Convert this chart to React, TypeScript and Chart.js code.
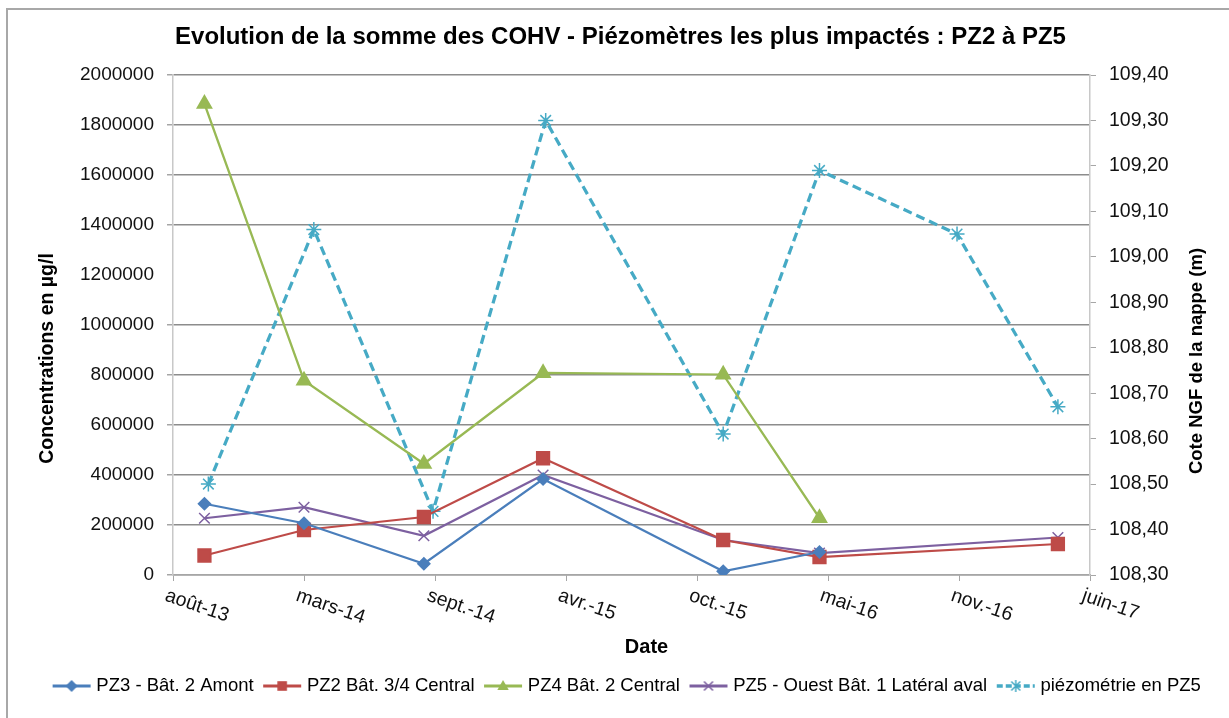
import React, { useEffect, useRef } from "react";
import { Chart, registerables } from "chart.js";

Chart.register(...registerables);

// ---------- data ----------
const tickLabels = ["août-13", "mars-14", "sept.-14", "avr.-15", "oct.-15", "mai-16", "nov.-16", "juin-17"];
const axisStartDate = "2013-08-15";
const tickStepDays = 200;

const concDates = ["2013-10-02", "2014-03-03", "2014-09-02", "2015-03-03", "2015-12-03", "2016-04-28", "2017-04-27"];
const pz3Values = [285000, 207000, 45000, 384000, 15000, 92000, null];
const pz2Values = [78000, 180000, 232000, 467000, 140000, 72000, 124000];
const pz4Values = [1885000, 778000, 445000, 808000, 802000, 228000, null];
const pz5Values = [227000, 271000, 157000, 400000, 140000, 88000, 150000];

const piezoDates = ["2013-10-08", "2014-03-18", "2014-09-16", "2015-03-07", "2015-12-03", "2016-04-28", "2016-11-24", "2017-04-27"];
const piezoValues = [108.5, 109.06, 108.44, 109.3, 108.61, 109.19, 109.05, 108.67];

const seriesNames = [
  "PZ3 - Bât. 2 Amont",
  "PZ2 Bât. 3/4 Central",
  "PZ4 Bât. 2 Central",
  "PZ5 - Ouest Bât. 1 Latéral aval",
  "piézométrie en PZ5",
];

const titleText = "Evolution de la somme des COHV - Piézomètres les plus impactés : PZ2 à PZ5";
const leftAxisTitle = "Concentrations en µg/l";
const rightAxisTitle = "Cote NGF de la nappe (m)";
const xAxisTitle = "Date";

// ---------- helpers ----------
const FONT = "'Liberation Sans', Arial, sans-serif";
const dayMs = 86400000;
const toDays = (d: string) => (Date.parse(d) - Date.parse(axisStartDate)) / dayMs;

const toPoints = (dates: string[], values: (number | null)[]) =>
  dates
    .map((d, i) => ({ x: toDays(d), y: values[i] }))
    .filter((p) => p.y !== null && p.y !== undefined);

const COLORS = {
  pz3: "#4A7EBB",
  pz2: "#BE4B48",
  pz4: "#98B954",
  pz5: "#7D60A0",
  piezo: "#46AAC5",
};

function drawMarker(ctx: CanvasRenderingContext2D, style: string, x: number, y: number, r: number, color: string) {
  ctx.save();
  ctx.fillStyle = color;
  ctx.strokeStyle = color;
  ctx.lineWidth = 1.5;
  ctx.beginPath();
  if (style === "rectRot") {
    ctx.moveTo(x, y - r);
    ctx.lineTo(x + r, y);
    ctx.lineTo(x, y + r);
    ctx.lineTo(x - r, y);
    ctx.closePath();
    ctx.fill();
  } else if (style === "rect") {
    ctx.rect(x - r * 0.8, y - r * 0.8, r * 1.6, r * 1.6);
    ctx.fill();
  } else if (style === "triangle") {
    ctx.moveTo(x, y - r);
    ctx.lineTo(x + r * 0.95, y + r * 0.65);
    ctx.lineTo(x - r * 0.95, y + r * 0.65);
    ctx.closePath();
    ctx.fill();
  } else if (style === "crossRot") {
    ctx.moveTo(x - r * 0.75, y - r * 0.75);
    ctx.lineTo(x + r * 0.75, y + r * 0.75);
    ctx.moveTo(x + r * 0.75, y - r * 0.75);
    ctx.lineTo(x - r * 0.75, y + r * 0.75);
    ctx.stroke();
  } else if (style === "star") {
    ctx.moveTo(x - r * 0.75, y - r * 0.75);
    ctx.lineTo(x + r * 0.75, y + r * 0.75);
    ctx.moveTo(x + r * 0.75, y - r * 0.75);
    ctx.lineTo(x - r * 0.75, y + r * 0.75);
    ctx.moveTo(x, y - r);
    ctx.lineTo(x, y + r);
    ctx.stroke();
  }
  ctx.restore();
}

function legendSymbol(color: string, style: string, dashed: boolean): HTMLCanvasElement {
  const c = document.createElement("canvas");
  c.width = 40;
  c.height = 18;
  const ctx = c.getContext("2d")!;
  ctx.strokeStyle = color;
  ctx.lineWidth = dashed ? 3.5 : 3;
  if (dashed) ctx.setLineDash([6, 3]);
  ctx.beginPath();
  ctx.moveTo(1, 9);
  ctx.lineTo(39, 9);
  ctx.stroke();
  ctx.setLineDash([]);
  drawMarker(ctx, style, 20, 9, 6, color);
  return c;
}

// ---------- component ----------
export default function App() {
  const canvasRef = useRef<HTMLCanvasElement | null>(null);

  useEffect(() => {
    if (!canvasRef.current) return;

    const legendStyles = [
      legendSymbol(COLORS.pz3, "rectRot", false),
      legendSymbol(COLORS.pz2, "rect", false),
      legendSymbol(COLORS.pz4, "triangle", false),
      legendSymbol(COLORS.pz5, "crossRot", false),
      legendSymbol(COLORS.piezo, "star", true),
    ];

    const shiftPlugin = {
      id: "shiftPlugin",
      afterLayout(chart: any) {
        if (chart.legend) {
          chart.legend.left += 14;
          chart.legend.right += 14;
        }
        if (chart.titleBlock) {
          chart.titleBlock.left += 6;
          chart.titleBlock.right += 6;
        }
      },
    };

    const textPlugin = {
      id: "textPlugin",
      afterDraw(chart: any) {
        const ctx = chart.ctx as CanvasRenderingContext2D;
        const xs = chart.scales.x;
        const area = chart.chartArea;
        ctx.save();
        // x tick labels (slanted)
        ctx.fillStyle = "#111";
        ctx.font = `19.5px ${FONT}`;
        ctx.textAlign = "left";
        ctx.textBaseline = "top";
        tickLabels.forEach((lab, i) => {
          const px = xs.getPixelForValue(i * tickStepDays);
          ctx.save();
          ctx.translate(px - 4, area.bottom + 11);
          ctx.rotate((19 * Math.PI) / 180);
          ctx.fillText(lab, 0, 0);
          ctx.restore();
        });
        // x axis title
        ctx.font = `bold 20px ${FONT}`;
        ctx.textAlign = "center";
        ctx.textBaseline = "middle";
        ctx.fillStyle = "#000";
        ctx.fillText(xAxisTitle, (area.left + area.right) / 2 + 15, 647);
        // left axis title
        ctx.save();
        ctx.font = `bold 19.5px ${FONT}`;
        ctx.translate(48, area.top + (area.bottom - area.top) * 0.567);
        ctx.rotate(-Math.PI / 2);
        ctx.fillText(leftAxisTitle, 0, 0);
        ctx.restore();
        // right axis title
        ctx.save();
        ctx.font = `bold 18.5px ${FONT}`;
        ctx.translate(1197, area.top + (area.bottom - area.top) * 0.572);
        ctx.rotate(-Math.PI / 2);
        ctx.fillText(rightAxisTitle, 0, 0);
        ctx.restore();
        ctx.restore();
      },
    };

    const chart = new Chart(canvasRef.current, {
      type: "line",
      data: {
        datasets: [
          {
            label: seriesNames[0],
            data: toPoints(concDates, pz3Values),
            borderColor: COLORS.pz3,
            backgroundColor: COLORS.pz3,
            borderWidth: 2.25,
            pointStyle: "rectRot",
            pointRadius: 5.5,
            yAxisID: "y",
          },
          {
            label: seriesNames[1],
            data: toPoints(concDates, pz2Values),
            borderColor: COLORS.pz2,
            backgroundColor: COLORS.pz2,
            borderWidth: 2.25,
            pointStyle: "rect",
            pointRadius: 8.5,
            yAxisID: "y",
          },
          {
            label: seriesNames[2],
            data: toPoints(concDates, pz4Values),
            borderColor: COLORS.pz4,
            backgroundColor: COLORS.pz4,
            borderWidth: 2.25,
            pointStyle: "triangle",
            pointRadius: 7.5,
            yAxisID: "y",
          },
          {
            label: seriesNames[3],
            data: toPoints(concDates, pz5Values),
            borderColor: COLORS.pz5,
            backgroundColor: COLORS.pz5,
            borderWidth: 2.25,
            pointStyle: "crossRot",
            pointRadius: 7.5,
            pointBorderWidth: 1.5,
            yAxisID: "y",
          },
          {
            label: seriesNames[4],
            data: toPoints(piezoDates, piezoValues),
            borderColor: COLORS.piezo,
            backgroundColor: COLORS.piezo,
            borderWidth: 3.25,
            borderDash: [9, 5],
            pointStyle: "star",
            pointRadius: 7.5,
            pointBorderWidth: 1.5,
            yAxisID: "y1",
          },
        ],
      },
      options: {
        animation: false,
        responsive: true,
        maintainAspectRatio: false,
        layout: { padding: { top: 0, left: 0, right: 0, bottom: 12.75 } },
        elements: { line: { tension: 0 } },
        plugins: {
          tooltip: { enabled: false },
          title: {
            display: true,
            text: titleText,
            color: "#000",
            font: { family: FONT, size: 24, weight: "bold" },
            padding: { top: 23, bottom: 23.2 },
          },
          legend: {
            display: true,
            position: "bottom",
            labels: {
              usePointStyle: true,
              pointStyleWidth: 31,
              padding: 13,
              color: "#000",
              font: { family: FONT, size: 18.5 },
              generateLabels: () =>
                seriesNames.map((name, i) => ({
                  text: name,
                  pointStyle: legendStyles[i],
                  fillStyle: "transparent",
                  strokeStyle: "transparent",
                  lineWidth: 0,
                  hidden: false,
                  datasetIndex: i,
                  fontColor: "#000",
                })),
            },
          },
        },
        scales: {
          x: {
            type: "linear",
            min: 0,
            max: tickStepDays * (tickLabels.length - 1),
            ticks: { stepSize: tickStepDays, display: false },
            grid: {
              drawOnChartArea: false,
              drawTicks: true,
              tickLength: 6,
              color: "#a6a6a6",
            },
            border: { color: "#a6a6a6", width: 1.5 },
            afterFit: (s: any) => {
              s.height = 88.75;
            },
          },
          y: {
            type: "linear",
            position: "left",
            min: 0,
            max: 2000000,
            ticks: {
              stepSize: 200000,
              padding: 13,
              color: "#111",
              font: { family: FONT, size: 19 },
              callback: (v: any) => String(v),
            },
            grid: {
              color: (c: any) => (c.tick && c.tick.value === 1200000 ? "rgba(0,0,0,0)" : "#8c8c8c"),
              tickColor: (c: any) => (c.tick && c.tick.value === 1200000 ? "rgba(0,0,0,0)" : "#a6a6a6"),
              lineWidth: 1.5,
              tickLength: 6,
            },
            border: { color: "#c8c8c8", width: 1.5 },
            title: { display: false },
            afterFit: (s: any) => {
              s.width = 173;
            },
          },
          y1: {
            type: "linear",
            position: "right",
            min: 108.3,
            max: 109.4,
            ticks: {
              stepSize: 0.1,
              padding: 13,
              color: "#111",
              font: { family: FONT, size: 19.5 },
              callback: (v: any) => Number(v).toFixed(2).replace(".", ","),
            },
            grid: {
              drawOnChartArea: false,
              tickLength: 6,
              color: "#a6a6a6",
            },
            border: { color: "#c8c8c8", width: 1.5 },
            title: { display: false },
            afterFit: (s: any) => {
              s.width = 139;
            },
          },
        },
      },
      plugins: [shiftPlugin, textPlugin],
    });

    return () => chart.destroy();
  }, []);

  return (
    <div style={{ position: "absolute", left: 0, top: 0, width: 1229, height: 718, overflow: "hidden", background: "#fff" }}>
      <div
        style={{
          position: "absolute",
          left: 6,
          top: 8,
          width: 1400,
          height: 900,
          borderLeft: "2px solid #a8a8a8",
          borderTop: "2px solid #a8a8a8",
        }}
      />
      <div style={{ position: "absolute", left: 0, top: 0, width: 1229, height: 718 }}>
        <canvas ref={canvasRef} />
      </div>
    </div>
  );
}
